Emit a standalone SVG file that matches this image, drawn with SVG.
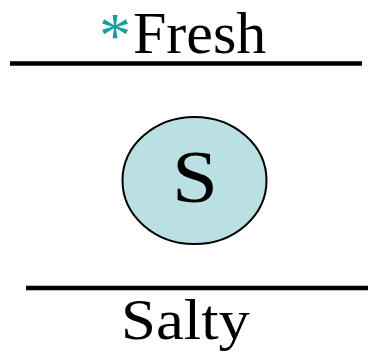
<svg xmlns="http://www.w3.org/2000/svg" width="368" height="355" viewBox="0 0 368 355">
<style>
.t{font-family:"Liberation Serif","Times New Roman",serif;fill:#000}
.rule{stroke:#000;stroke-width:4.5}
</style>
<rect width="368" height="355" fill="#fff"/>
<g id="fresh">
<line class="rule" x1="10" y1="63.5" x2="362" y2="63.5"/>
<text class="t" font-size="60" y="53"><tspan x="99" y="57" font-size="64" fill="#1a9e9e">*</tspan><tspan x="133" y="53">Fresh</tspan></text>
</g>
<g id="s">
<ellipse cx="194.5" cy="180.5" rx="72" ry="63.5" fill="#bbe0e3" stroke="#000" stroke-width="2"/>
<text class="t" font-size="74" x="172" y="202" textLength="46" lengthAdjust="spacingAndGlyphs">S</text>
</g>
<g id="salty">
<line class="rule" x1="26" y1="288" x2="368" y2="288"/>
<text class="t" font-size="56" x="121" y="339" textLength="129" lengthAdjust="spacingAndGlyphs">Salty</text>
</g>
<g id="connectors"/>
</svg>
